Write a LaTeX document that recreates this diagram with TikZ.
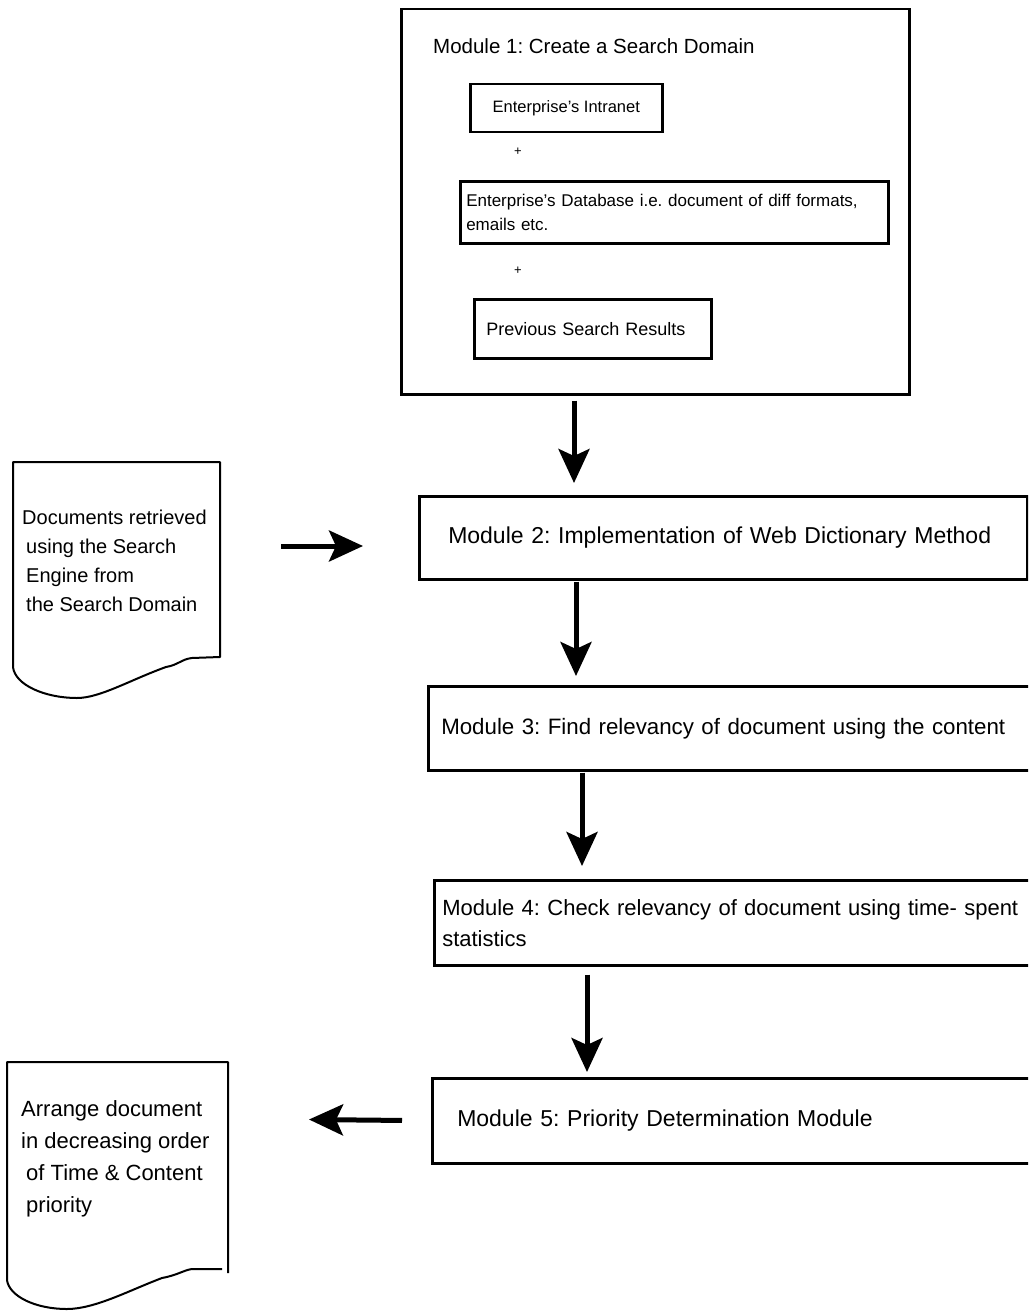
\documentclass[tikz,border=0pt]{standalone}
\usepackage{fontspec}
\setmainfont{Liberation Sans}
\usepackage{tikz}
\usetikzlibrary{positioning, arrows.meta}
\frenchspacing
\tikzset{
	modbox/.style={draw, line width=2.5pt, anchor=north west, inner ysep=0pt, align=left, font=\fontsize{23}{31}\selectfont},
	srcbox/.style={draw, line width=2.5pt, anchor=north west, inner ysep=0pt, align=left, font=\fontsize{17}{24}\selectfont},
	doctext/.style={anchor=west, inner sep=0pt, align=left},
	docline/.style={line width=2pt, line join=round},
	bigarrow/.style={line width=5pt, -{Stealth[length=34pt, width=31pt, inset=7pt]}}
}

\begin{document}
\begin{tikzpicture}[x=1pt, y=-1pt]
	\useasboundingbox (0,0) rectangle (1028,1311);
	\clip (0,0) rectangle (1028,1311);
	
	\node[modbox, minimum width=508pt, minimum height=385pt] (mod1) at (400,8) {};
	\node[anchor=west, inner sep=0pt, font=\fontsize{20.5}{24}\selectfont] (mod1title) at (433,46) {Module 1: Create a Search Domain};
	\node[srcbox, minimum width=192pt, minimum height=48pt, align=center, font=\fontsize{16.5}{20}\selectfont] (intranet) at (469,83) {Enterprise's Intranet};
	\node[font=\fontsize{13}{13}\selectfont] (plus1) at (518,152) {+};
	\node[srcbox, text width=416pt, inner xsep=6pt, minimum height=62pt] (database) at (459,180) {Enterprise's Database i.e. document of diff formats,\\emails etc.};
	\node[font=\fontsize{13}{13}\selectfont] (plus2) at (518,271) {+};
	\node[srcbox, text width=213pt, inner xsep=12pt, minimum height=59pt, font=\fontsize{18}{22}\selectfont] (previous) at (473,298) {Previous Search Results};
	
	\node[modbox, text width=550pt, inner xsep=29pt, minimum height=83pt] (mod2) at (418,495) {Module 2: Implementation of Web Dictionary Method};
	\node[modbox, text width=600pt, inner xsep=13pt, minimum height=84pt, font=\fontsize{22.3}{31}\selectfont] (mod3) at (427,685) {Module 3: Find relevancy of document using the content};
	\node[modbox, text width=610pt, inner xsep=8pt, minimum height=85pt, font=\fontsize{22}{31}\selectfont] (mod4) at (433,879) {Module 4: Check relevancy of document using time- spent\\statistics};
	\node[modbox, text width=590pt, inner xsep=25pt, minimum height=85pt] (mod5) at (431,1077) {Module 5: Priority Determination Module};
	
	\draw[docline] (13,667) -- (13,462) -- (220,462) -- (220,657) -- (192,658) .. controls (182,659) and (178,665) .. (166,667) .. controls (130,680) and (100,698) .. (77,698) .. controls (45,698) and (15,685) .. (13,667);
	\node[doctext, font=\fontsize{20}{29}\selectfont] (doc1) at (22,561) {Documents retrieved\\\hspace*{4pt}using the Search\\\hspace*{4pt}Engine from\\\hspace*{4pt}the Search Domain};
	
	\draw[docline] (222,1269) -- (192,1269) .. controls (184,1270) and (178,1275) .. (162,1278) .. controls (130,1290) and (95,1309) .. (67,1309) .. controls (35,1309) and (9,1296) .. (7,1280) -- (7,1062) -- (228,1062) -- (228,1273);
	\node[doctext, font=\fontsize{22}{32}\selectfont] (doc2) at (21,1159) {Arrange document\\in decreasing order\\\hspace*{5pt}of Time \& Content\\\hspace*{5pt}priority};
	
	\coordinate (down1) at (574,0);
	\coordinate (down2) at (576,0);
	\coordinate (down3) at (582,0);
	\coordinate (down4) at (587,0);
	\coordinate (in2) at (281,546);
	\coordinate (in2end) at (363,546);
	\coordinate (out5) at (309,1119.5);
	
	\draw[bigarrow, shorten <=5pt, shorten >=12pt] (mod1.south -| down1) -- (mod2.north -| down1);
	\draw[bigarrow, shorten <=1pt, shorten >=9pt] (mod2.south -| down2) -- (mod3.north -| down2);
	\draw[bigarrow, shorten <=1pt, shorten >=13pt] (mod3.south -| down3) -- (mod4.north -| down3);
	\draw[bigarrow, shorten <=8pt, shorten >=5pt] (mod4.south -| down4) -- (mod5.north -| down4);
	\draw[bigarrow] (in2) -- (in2end);
	\draw[bigarrow, shorten <=29pt] (mod5.west) -- (out5);
\end{tikzpicture}
\end{document}
